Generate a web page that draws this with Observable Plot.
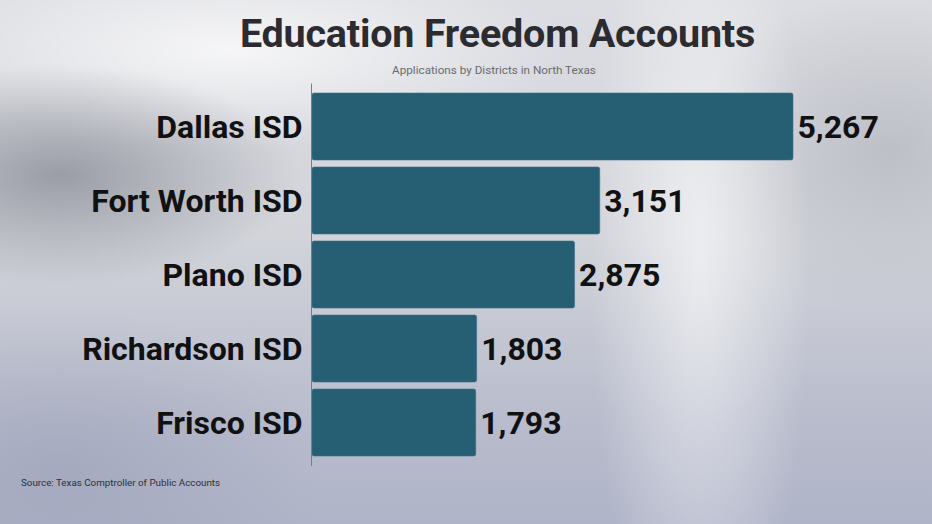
<!DOCTYPE html>
<html>
<head>
<meta charset="utf-8">
<script src="https://cdn.jsdelivr.net/npm/d3@7"></script>
<script src="https://cdn.jsdelivr.net/npm/@observablehq/plot@0.6"></script>
<style>
  html, body { margin: 0; padding: 0; }
  #wrap {
    position: relative; width: 932px; height: 524px; overflow: hidden;
    font-family: Roboto, "Noto Sans", sans-serif;
    background:
      radial-gradient(ellipse 240px 110px at 60px 175px, rgba(115,119,130,0.6), rgba(115,119,130,0) 100%),
      radial-gradient(ellipse 340px 100px at 230px 50px, rgba(255,255,255,0.75), rgba(255,255,255,0) 100%),
      radial-gradient(ellipse 110px 420px at 700px 260px, rgba(255,255,255,0.6), rgba(255,255,255,0) 100%),
      radial-gradient(ellipse 200px 160px at 890px 150px, rgba(165,168,178,0.5), rgba(165,168,178,0) 100%),
      radial-gradient(ellipse 260px 160px at 60px 470px, rgba(150,155,180,0.5), rgba(150,155,180,0) 100%),
      linear-gradient(180deg, #dcdde2 0%, #d2d4da 45%, #b8bccc 80%, #b0b4c8 100%);
  }
  #title {
    position: absolute; left: 0; width: 995px; top: 10px; text-align: center;
    font-size: 39.5px; font-weight: 700; color: #2b2b30; letter-spacing: -0.2px;
  }
  #subtitle {
    position: absolute; left: 0; width: 988px; top: 63px; text-align: center;
    font-size: 11.7px; color: #6a6a70;
  }
  #source {
    position: absolute; left: 21px; top: 477px; font-size: 9.8px; color: #2e3038;
  }
  #chart { position: absolute; left: 0; top: 0; }
</style>
</head>
<body>
<div id="wrap">
  <div id="chart"></div>
  <div id="title">Education Freedom Accounts</div>
  <div id="subtitle">Applications by Districts in North Texas</div>
  <div id="source">Source: Texas Comptroller of Public Accounts</div>
</div>
<script>
const districts = ["Dallas ISD", "Fort Worth ISD", "Plano ISD", "Richardson ISD", "Frisco ISD"];
const applications = [5267, 3151, 2875, 1803, 1793];

const data = districts.map((d, i) => ({district: d, value: applications[i]}));

const chart = Plot.plot({
  width: 932,
  height: 524,
  marginTop: 83.5,
  marginBottom: 58,
  marginLeft: 312,
  marginRight: 139,
  style: {background: "transparent", fontFamily: "Roboto, sans-serif"},
  x: {domain: [0, 5267], axis: null},
  y: {domain: districts, padding: 0.1, axis: null},
  marks: [
    Plot.barX(data, {x: "value", y: "district", fill: "#265e74", rx: 2, stroke: "#3a7288", strokeWidth: 0.6}),
    Plot.ruleX([0], {stroke: "#7a7c84", strokeWidth: 1, dx: -1}),
    Plot.text(data, {x: 0, y: "district", text: "district", textAnchor: "end", dx: -10, dy: 1,
      fontSize: 32, fontWeight: 700, fill: "#111"}),
    Plot.text(data, {x: "value", y: "district", text: d => d3.format(",")(d.value), textAnchor: "start", dx: 4, dy: 1,
      fontSize: 32, fontWeight: 700, fill: "#111"})
  ]
});
document.getElementById("chart").appendChild(chart);
</script>
</body>
</html>
